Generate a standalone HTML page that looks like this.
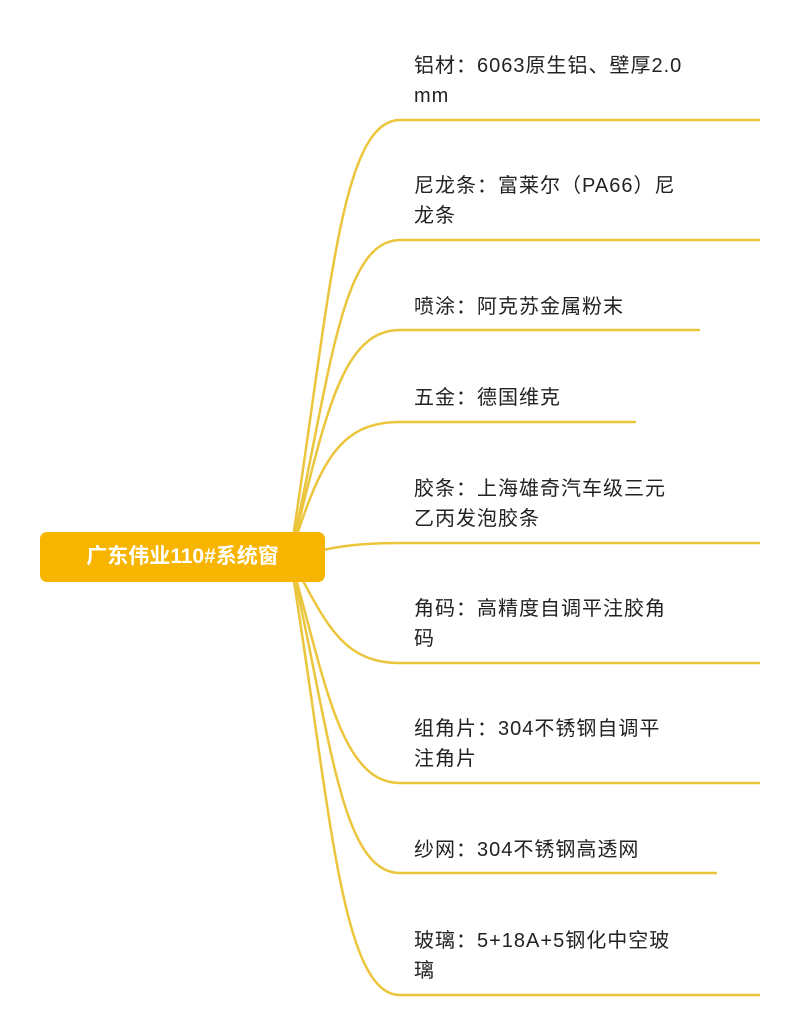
<!DOCTYPE html>
<html><head><meta charset="utf-8"><style>
body{margin:0;width:800px;height:1036px;background:#fff;position:relative;overflow:hidden;font-family:"Liberation Sans","Noto Sans CJK SC",sans-serif}
.root{position:absolute;left:40px;top:532px;width:285px;height:50px;background:#F7B500;border-radius:7px;color:#fff;font-size:21px;line-height:50px;text-align:center;font-weight:bold}
.t{position:absolute;left:414px;font-size:20px;letter-spacing:1px;line-height:30px;color:#222;width:300px}
</style></head><body>
<svg width="800" height="1036" style="position:absolute;left:0;top:0" fill="none" stroke="#EBC53C" stroke-width="2.5">
<path d="M290 557 C330 300,340 120,400 120 H760"/>
<path d="M290 557 C330 380,340 240,400 240 H760"/>
<path d="M290 557 C325 420,340 330,400 330 H700"/>
<path d="M290 557 C320 460,340 422,400 422 H636"/>
<path d="M290 557 C330 548,350 543,400 543 H760"/>
<path d="M290 557 C325 620,340 663,400 663 H760"/>
<path d="M290 557 C325 680,340 783,400 783 H760"/>
<path d="M290 557 C330 730,340 873,400 873 H717"/>
<path d="M290 557 C330 800,340 995,400 995 H760"/>
</svg>
<div class="root">广东伟业110#系统窗</div>
<div class="t" style="top:51px">铝材：6063原生铝、壁厚2.0<br>mm</div>
<div class="t" style="top:171px">尼龙条：富莱尔（PA66）尼<br>龙条</div>
<div class="t" style="top:292px">喷涂：阿克苏金属粉末</div>
<div class="t" style="top:383px">五金：德国维克</div>
<div class="t" style="top:474px">胶条：上海雄奇汽车级三元<br>乙丙发泡胶条</div>
<div class="t" style="top:594px">角码：高精度自调平注胶角<br>码</div>
<div class="t" style="top:714px">组角片：304不锈钢自调平<br>注角片</div>
<div class="t" style="top:835px">纱网：304不锈钢高透网</div>
<div class="t" style="top:926px">玻璃：5+18A+5钢化中空玻<br>璃</div>
</body></html>
